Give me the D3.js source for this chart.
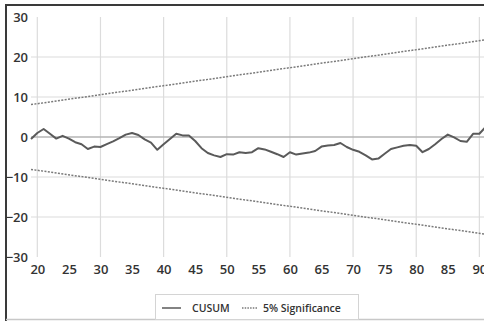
<!DOCTYPE html>
<html>
<head>
<meta charset="utf-8">
<script src="https://cdn.jsdelivr.net/npm/d3@7"></script>
<style>
  body { margin: 0; background: #fff; overflow: hidden; }
  #grafico { width: 484px; height: 321px; }
  text { font-family: "Open Sans", "Liberation Sans", sans-serif; }
</style>
</head>
<body>
<div id="grafico"></div>
<script>
// observation index of the CUSUM series
var tObs = [19,20,21,22,23,24,25,26,27,28,29,30,31,32,33,34,35,36,37,38,39,40,
  41,42,43,44,45,46,47,48,49,50,51,52,53,54,55,56,57,58,59,60,61,62,63,64,65,
  66,67,68,69,70,71,72,73,74,75,76,77,78,79,80,81,82,83,84,85,86,87,88,89,90,91];
var cusum = [-0.5,1.0,2.0,0.8,-0.4,0.3,-0.4,-1.3,-1.8,-3.0,-2.4,-2.5,-1.8,-1.1,-0.3,0.6,1.0,0.5,-0.6,-1.4,-3.2,-1.8,
  -0.5,0.8,0.4,0.4,-1.0,-2.8,-4.0,-4.6,-5.0,-4.3,-4.4,-3.8,-4.0,-3.8,-2.8,-3.1,-3.7,-4.3,-5.0,-3.8,-4.4,-4.1,-3.9,-3.5,-2.4,
  -2.1,-2.0,-1.5,-2.5,-3.2,-3.7,-4.6,-5.6,-5.4,-4.2,-3.0,-2.6,-2.2,-2.0,-2.2,-3.8,-3.0,-1.8,-0.5,0.6,-0.1,-1.0,-1.2,0.8,0.8,2.5];

// 5% significance bounds (straight lines)
var sigT = [19, 91];
var sigUpper = [8.1, 24.3];
var sigLower = [-8.1, -24.3];

// ticks
var xTicks = [20,25,30,35,40,45,50,55,60,65,70,75,80,85,90];
var xGrid = [20,30,40,50,60,70,80,90];
var yTicks = [30,20,10,0,-10,-20,-30];
var yGrid = [20,10,-10,-20];

var margin = {top: 17, right: 0, bottom: 64, left: 31},
    width = 492 - margin.left - margin.right,
    height = 321 - margin.top - margin.bottom;

var svg = d3.select("#grafico")
  .append("svg")
    .attr("width", 484)
    .attr("height", 321);

// outer frame
svg.append("line").attr("x1", 5).attr("x2", 484).attr("y1", 5).attr("y2", 5)
  .attr("stroke", "#3a3a3a").attr("stroke-width", 2);
svg.append("line").attr("x1", 6).attr("x2", 6).attr("y1", 4).attr("y2", 321)
  .attr("stroke", "#3a3a3a").attr("stroke-width", 2);
svg.append("line").attr("x1", 6).attr("x2", 484).attr("y1", 319.5).attr("y2", 319.5)
  .attr("stroke", "#c8c8c8").attr("stroke-width", 1.5);

var g = svg.append("g")
  .attr("transform", "translate(" + margin.left + "," + margin.top + ")");

var x = d3.scaleLinear().domain([19, 92]).range([0, width]);
var y = d3.scaleLinear().domain([-30, 30]).range([height, 0]);

// grid
g.append("g").selectAll("line").data(xGrid).enter().append("line")
  .attr("x1", function(d) { return x(d); }).attr("x2", function(d) { return x(d); })
  .attr("y1", 0).attr("y2", height)
  .attr("stroke", "#dcdcdc").attr("stroke-width", 1.2);

g.append("g").selectAll("line").data(yGrid).enter().append("line")
  .attr("x1", 0).attr("x2", width)
  .attr("y1", function(d) { return y(d); }).attr("y2", function(d) { return y(d); })
  .attr("stroke", "#dcdcdc").attr("stroke-width", 1.2);

// zero line
g.append("line")
  .attr("x1", 0).attr("x2", width)
  .attr("y1", y(0)).attr("y2", y(0))
  .attr("stroke", "#b4b4b4").attr("stroke-width", 1.3);

// axes labels
var xAxis = g.append("g")
  .attr("transform", "translate(0," + (height + 13) + ")")
  .call(d3.axisBottom(x).tickValues(xTicks).tickSize(0).tickPadding(0));
xAxis.select(".domain").remove();
xAxis.selectAll("text")
  .attr("font-size", 13)
  .attr("font-weight", 600)
  .attr("fill", "#333")
  .attr("dy", "0.32em")
  .attr("font-family", "Open Sans");

var yAxis = g.append("g")
  .attr("transform", "translate(-3,0)")
  .call(d3.axisLeft(y).tickValues(yTicks).tickSize(0).tickPadding(0));
yAxis.select(".domain").remove();
yAxis.selectAll("text")
  .attr("font-size", 13)
  .attr("font-weight", 600)
  .attr("fill", "#333")
  .attr("font-family", "Open Sans");

// significance bounds
var sigLine = function(vals) {
  return d3.line()
    .x(function(d, i) { return x(sigT[i]); })
    .y(function(d) { return y(d); })(vals);
};
[sigUpper, sigLower].forEach(function(vals) {
  g.append("path")
    .attr("d", sigLine(vals))
    .attr("fill", "none")
    .attr("stroke", "#7a7a7a")
    .attr("stroke-width", 1.5)
    .attr("stroke-dasharray", "2,1.4");
});

// CUSUM line
g.append("path")
  .datum(cusum)
  .attr("fill", "none")
  .attr("stroke", "#5a5a5a")
  .attr("stroke-width", 2)
  .attr("stroke-linejoin", "round")
  .attr("d", d3.line()
    .x(function(d, i) { return x(tObs[i]); })
    .y(function(d) { return y(d); }));

// legend
var leg = svg.append("g");
leg.append("rect")
  .attr("x", 155.5).attr("y", 294.5).attr("width", 203).attr("height", 25)
  .attr("fill", "#fff").attr("stroke", "#d4d4d4");
leg.append("line").attr("x1", 162).attr("x2", 181).attr("y1", 308).attr("y2", 308)
  .attr("stroke", "#5a5a5a").attr("stroke-width", 1.5);
leg.append("text").attr("x", 192).attr("y", 308).attr("dy", "0.35em")
  .attr("font-size", 10.5).attr("font-weight", 600).attr("fill", "#333").text("CUSUM");
leg.append("line").attr("x1", 242).attr("x2", 257).attr("y1", 308).attr("y2", 308)
  .attr("stroke", "#7a7a7a").attr("stroke-width", 1.5).attr("stroke-dasharray", "1.5,1.2");
leg.append("text").attr("x", 263).attr("y", 308).attr("dy", "0.35em")
  .attr("font-size", 10.5).attr("font-weight", 600).attr("fill", "#333").text("5% Significance");
</script>
</body>
</html>
